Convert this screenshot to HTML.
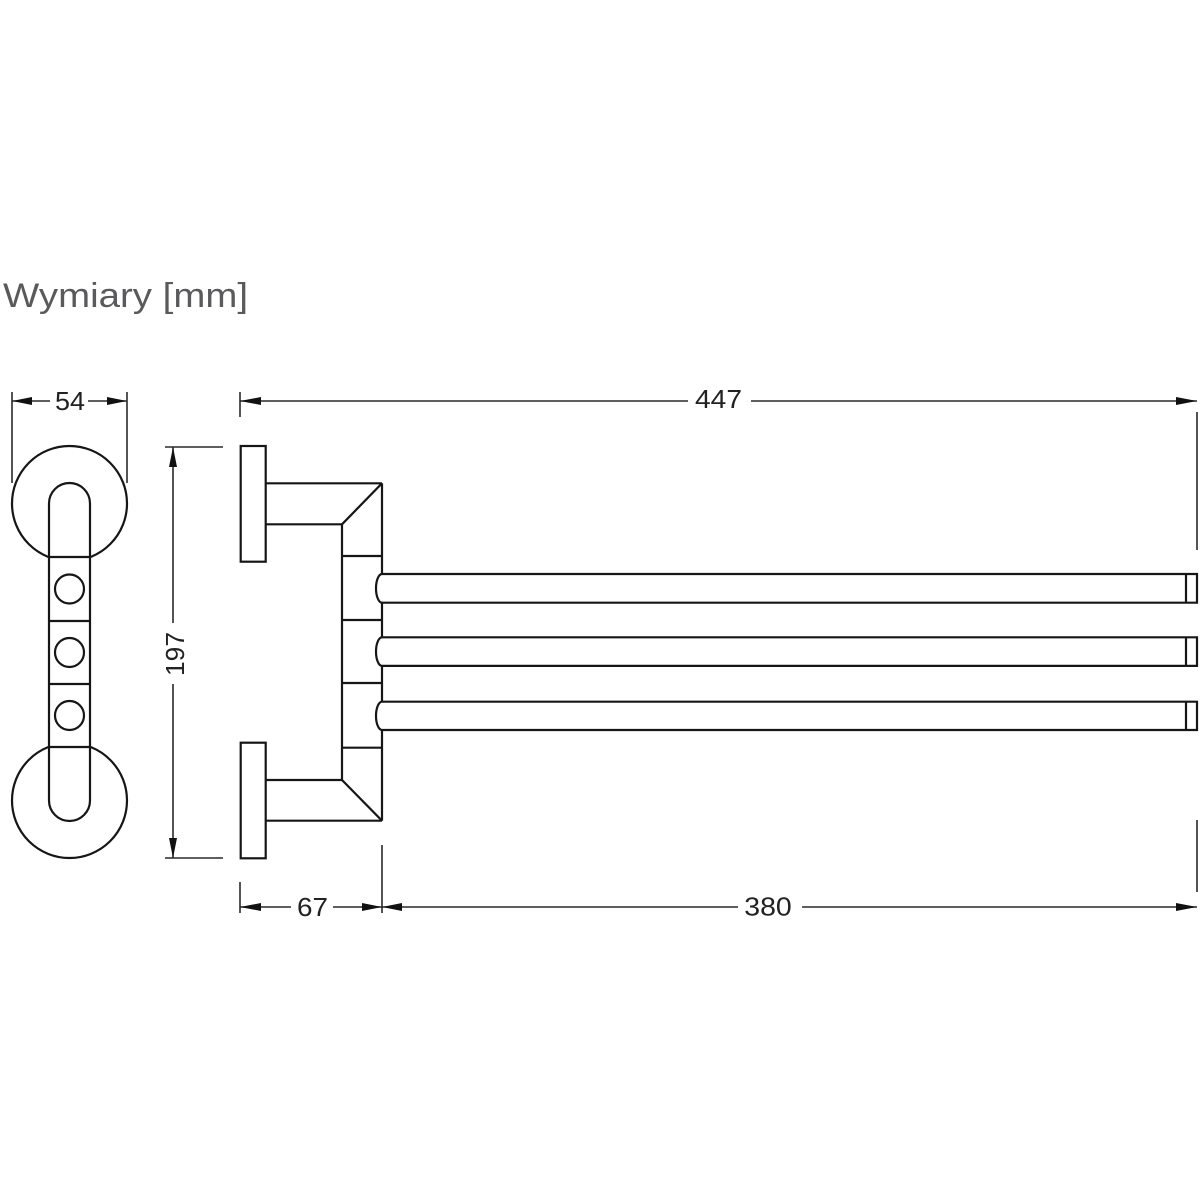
<!DOCTYPE html>
<html>
<head>
<meta charset="utf-8">
<style>
  html, body { margin: 0; padding: 0; background: #fff; }
  svg { display: block; }
  text { font-family: "Liberation Sans", Arial, sans-serif; }
</style>
</head>
<body>
<svg width="1200" height="1200" viewBox="0 0 1200 1200" xmlns="http://www.w3.org/2000/svg">
  <rect width="1200" height="1200" fill="#fff"/>

  <!-- Title -->
  <text x="3" y="307" font-size="34" fill="#5a5a5c" textLength="245" lengthAdjust="spacingAndGlyphs">Wymiary [mm]</text>

  <!-- ============ SIDE VIEW ============ -->
  <g stroke="#161616" stroke-width="2.2" fill="#fff">
    <circle cx="69.5" cy="503.5" r="57.5"/>
    <circle cx="69.5" cy="800.5" r="57.5"/>
    <!-- slot stadium -->
    <path d="M49,503.5 A20.5,20.5 0 0 1 90,503.5 L90,800.5 A20.5,20.5 0 0 1 49,800.5 Z"/>
    <!-- slot divisions -->
    <line x1="49" y1="557" x2="90" y2="557"/>
    <line x1="49" y1="621" x2="90" y2="621"/>
    <line x1="49" y1="684" x2="90" y2="684"/>
    <line x1="49" y1="747" x2="90" y2="747"/>
    <!-- holes -->
    <circle cx="69.5" cy="589" r="14.5"/>
    <circle cx="69.5" cy="652.5" r="14.5"/>
    <circle cx="69.5" cy="715.5" r="14.5"/>
  </g>

  <!-- ============ FRONT VIEW ============ -->
  <g stroke="#161616" stroke-width="2.2" fill="none" stroke-linejoin="miter">
    <!-- flanges -->
    <rect x="240.7" y="446" width="25" height="115.7" fill="#fff"/>
    <rect x="240.7" y="742.7" width="25" height="115.6" fill="#fff"/>
    <!-- top arm -->
    <line x1="265.7" y1="483.3" x2="382" y2="483.3"/>
    <line x1="265.7" y1="524.3" x2="342" y2="524.3"/>
    <line x1="342" y1="524.3" x2="382" y2="483.3"/>
    <!-- bottom arm -->
    <line x1="265.7" y1="780" x2="342" y2="780"/>
    <line x1="265.7" y1="820.7" x2="382" y2="820.7"/>
    <line x1="342" y1="780" x2="382" y2="820.7"/>
    <!-- column -->
    <line x1="342" y1="524.3" x2="342" y2="780"/>
    <line x1="382" y1="483.3" x2="382" y2="574"/>
    <line x1="382" y1="602.7" x2="382" y2="637.3"/>
    <line x1="382" y1="665.9" x2="382" y2="701.7"/>
    <line x1="382" y1="730" x2="382" y2="820.7"/>
    <line x1="342" y1="556" x2="382" y2="556"/>
    <line x1="342" y1="620" x2="382" y2="620"/>
    <line x1="342" y1="683" x2="382" y2="683"/>
    <line x1="342" y1="747.7" x2="382" y2="747.7"/>

    <!-- bars -->
    <path d="M382,574 L1197,574 L1197,602.7 L382,602.7"/>
    <path d="M382,574 A6,14.35 0 0 0 382,602.7"/>
    <line x1="1186" y1="574" x2="1186" y2="602.7"/>

    <path d="M382,637.3 L1197,637.3 L1197,665.9 L382,665.9"/>
    <path d="M382,637.3 A6,14.3 0 0 0 382,665.9"/>
    <line x1="1186" y1="637.3" x2="1186" y2="665.9"/>

    <path d="M382,701.7 L1197,701.7 L1197,730 L382,730"/>
    <path d="M382,701.7 A6,14.15 0 0 0 382,730"/>
    <line x1="1186" y1="701.7" x2="1186" y2="730"/>
  </g>

  <!-- ============ DIMENSIONS ============ -->
  <g stroke="#2a2a2a" stroke-width="1.6" fill="none">
    <!-- 54 -->
    <line x1="12" y1="392" x2="12" y2="483"/>
    <line x1="127" y1="392" x2="127" y2="483"/>
    <line x1="12" y1="401" x2="50" y2="401"/>
    <line x1="88" y1="401" x2="127" y2="401"/>

    <!-- 197 -->
    <line x1="165" y1="447" x2="223" y2="447"/>
    <line x1="165" y1="858" x2="223" y2="858"/>
    <line x1="173" y1="447" x2="173" y2="623"/>
    <line x1="173" y1="684" x2="173" y2="858"/>

    <!-- 447 -->
    <line x1="240" y1="392" x2="240" y2="417"/>
    <line x1="1197" y1="412" x2="1197" y2="550"/>
    <line x1="240" y1="401" x2="688" y2="401"/>
    <line x1="751" y1="401" x2="1197" y2="401"/>

    <!-- 67 / 380 -->
    <line x1="240" y1="882" x2="240" y2="913"/>
    <line x1="382" y1="845" x2="382" y2="913"/>
    <line x1="1197" y1="820" x2="1197" y2="892"/>
    <line x1="240" y1="907" x2="291" y2="907"/>
    <line x1="333" y1="907" x2="382" y2="907"/>
    <line x1="382" y1="907" x2="738" y2="907"/>
    <line x1="802" y1="907" x2="1197" y2="907"/>
  </g>

  <!-- arrowheads -->
  <g fill="#111" stroke="none">
    <!-- 54 -->
    <polygon points="12,401 32,397 32,405"/>
    <polygon points="127,401 107,397 107,405"/>
    <!-- 197 -->
    <polygon points="173,447 169,467 177,467"/>
    <polygon points="173,858 169,838 177,838"/>
    <!-- 447 -->
    <polygon points="240,401 261,397 261,405"/>
    <polygon points="1197,401 1176,397 1176,405"/>
    <!-- 67 -->
    <polygon points="240,907 261,903 261,911"/>
    <polygon points="382,907 362,903 362,911"/>
    <!-- 380 -->
    <polygon points="382,907 402,903 402,911"/>
    <polygon points="1197,907 1176,903 1176,911"/>
  </g>

  <!-- dimension labels -->
  <g fill="#222" font-size="26">
    <text x="70" y="410" text-anchor="middle" textLength="30" lengthAdjust="spacingAndGlyphs">54</text>
    <text transform="translate(184,654) rotate(-90)" text-anchor="middle" textLength="44" lengthAdjust="spacingAndGlyphs">197</text>
    <text x="718.5" y="408" text-anchor="middle" textLength="47" lengthAdjust="spacingAndGlyphs">447</text>
    <text x="312.5" y="916" text-anchor="middle" textLength="31" lengthAdjust="spacingAndGlyphs">67</text>
    <text x="768" y="915.5" text-anchor="middle" textLength="47.5" lengthAdjust="spacingAndGlyphs">380</text>
  </g>
</svg>
</body>
</html>
